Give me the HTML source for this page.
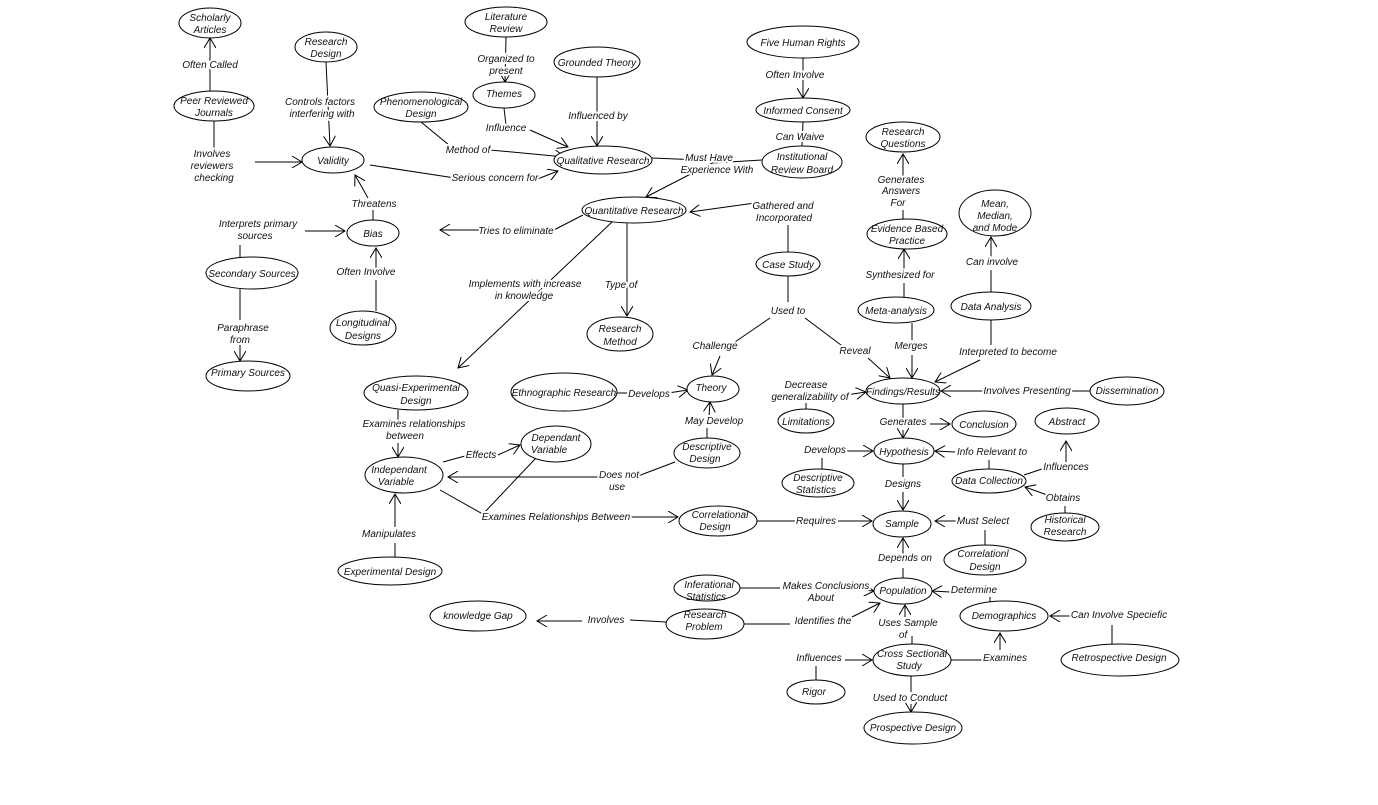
<!DOCTYPE html>
<html><head><meta charset="utf-8"><style>
html,body{margin:0;padding:0;background:#fff;}
svg{display:block;}
text{font-family:"Liberation Sans",Arial,sans-serif;font-size:10px;font-style:italic;fill:#111;text-anchor:middle;}
.l{stroke:#fff;stroke-width:4px;paint-order:stroke;stroke-linejoin:round;}
ellipse{fill:#fff;stroke:#000;stroke-width:1;}
line,polyline{stroke:#000;stroke-width:1;fill:none;}
</style></head><body>
<svg width="1378" height="805" viewBox="0 0 1378 805" xmlns="http://www.w3.org/2000/svg">
<defs><marker id="a" markerWidth="12" markerHeight="12" refX="11" refY="6" orient="auto" markerUnits="userSpaceOnUse"><path d="M1,0 L11,6 L1,12" fill="none" stroke="#000" stroke-width="1"/></marker></defs>
<g>
<line x1="210" y1="91" x2="210" y2="38" marker-end="url(#a)"/>
<line x1="326" y1="62" x2="330" y2="146" marker-end="url(#a)"/>
<line x1="506" y1="37" x2="505" y2="82" marker-end="url(#a)"/>
<line x1="597" y1="77" x2="597" y2="146" marker-end="url(#a)"/>
<line x1="803" y1="58" x2="803" y2="98" marker-end="url(#a)"/>
<line x1="803" y1="122" x2="802" y2="146"/>
<polyline points="762,160 712,163 646,197" marker-end="url(#a)"/>
<line x1="652" y1="158" x2="700" y2="160"/>
<line x1="504" y1="108" x2="506" y2="125"/>
<line x1="530" y1="130" x2="568" y2="147" marker-end="url(#a)"/>
<line x1="421" y1="122" x2="455" y2="150"/>
<line x1="490" y1="150" x2="565" y2="157" marker-end="url(#a)"/>
<line x1="214" y1="121" x2="214" y2="150"/>
<line x1="255" y1="162" x2="302" y2="162" marker-end="url(#a)"/>
<line x1="370" y1="165" x2="455" y2="178"/>
<line x1="535" y1="180" x2="558" y2="171" marker-end="url(#a)"/>
<line x1="373" y1="220" x2="373" y2="210"/>
<line x1="368" y1="198" x2="355" y2="175" marker-end="url(#a)"/>
<line x1="305" y1="231" x2="345" y2="231" marker-end="url(#a)"/>
<line x1="240" y1="257" x2="240" y2="245"/>
<line x1="583" y1="215" x2="550" y2="232"/>
<line x1="480" y1="230" x2="440" y2="230" marker-end="url(#a)"/>
<line x1="376" y1="311" x2="376" y2="280"/>
<line x1="376" y1="268" x2="376" y2="248" marker-end="url(#a)"/>
<line x1="612" y1="222" x2="458" y2="368" marker-end="url(#a)"/>
<line x1="627" y1="223" x2="627" y2="316" marker-end="url(#a)"/>
<line x1="240" y1="289" x2="240" y2="320"/>
<line x1="240" y1="345" x2="240" y2="361" marker-end="url(#a)"/>
<line x1="788" y1="252" x2="788" y2="225"/>
<line x1="755" y1="203" x2="690" y2="212" marker-end="url(#a)"/>
<line x1="788" y1="276" x2="788" y2="302"/>
<line x1="770" y1="318" x2="735" y2="342"/>
<line x1="720" y1="356" x2="712" y2="375" marker-end="url(#a)"/>
<line x1="805" y1="318" x2="845" y2="348"/>
<line x1="868" y1="358" x2="890" y2="378" marker-end="url(#a)"/>
<line x1="912" y1="323" x2="912" y2="340"/>
<line x1="912" y1="355" x2="912" y2="378" marker-end="url(#a)"/>
<line x1="991" y1="320" x2="991" y2="345"/>
<line x1="980" y1="360" x2="935" y2="382" marker-end="url(#a)"/>
<line x1="904" y1="297" x2="904" y2="283"/>
<line x1="904" y1="270" x2="904" y2="249" marker-end="url(#a)"/>
<line x1="903" y1="219" x2="903" y2="210"/>
<line x1="903" y1="178" x2="903" y2="154" marker-end="url(#a)"/>
<line x1="991" y1="292" x2="991" y2="270"/>
<line x1="991" y1="258" x2="991" y2="237" marker-end="url(#a)"/>
<line x1="617" y1="393" x2="630" y2="393"/>
<line x1="668" y1="393" x2="688" y2="390" marker-end="url(#a)"/>
<line x1="707" y1="438" x2="707" y2="428"/>
<line x1="709" y1="416" x2="710" y2="402" marker-end="url(#a)"/>
<line x1="806" y1="409" x2="806" y2="403"/>
<line x1="846" y1="395" x2="866" y2="392" marker-end="url(#a)"/>
<line x1="1090" y1="391" x2="1070" y2="391"/>
<line x1="985" y1="391" x2="941" y2="391" marker-end="url(#a)"/>
<line x1="903" y1="404" x2="903" y2="418"/>
<line x1="903" y1="430" x2="903" y2="438" marker-end="url(#a)"/>
<line x1="930" y1="424" x2="950" y2="424" marker-end="url(#a)"/>
<line x1="822" y1="469" x2="822" y2="458"/>
<line x1="845" y1="451" x2="873" y2="451" marker-end="url(#a)"/>
<line x1="989" y1="469" x2="989" y2="460"/>
<line x1="955" y1="452" x2="935" y2="451" marker-end="url(#a)"/>
<line x1="1024" y1="475" x2="1045" y2="468"/>
<line x1="1066" y1="462" x2="1066" y2="441" marker-end="url(#a)"/>
<line x1="1065" y1="513" x2="1065" y2="506"/>
<line x1="1050" y1="496" x2="1025" y2="487" marker-end="url(#a)"/>
<line x1="903" y1="464" x2="903" y2="477"/>
<line x1="903" y1="492" x2="903" y2="510" marker-end="url(#a)"/>
<line x1="757" y1="521" x2="795" y2="521"/>
<line x1="838" y1="521" x2="872" y2="521" marker-end="url(#a)"/>
<line x1="985" y1="545" x2="985" y2="530"/>
<line x1="962" y1="521" x2="935" y2="521" marker-end="url(#a)"/>
<line x1="903" y1="578" x2="903" y2="568"/>
<line x1="903" y1="555" x2="903" y2="538" marker-end="url(#a)"/>
<line x1="740" y1="588" x2="780" y2="588"/>
<line x1="862" y1="590" x2="874" y2="591" marker-end="url(#a)"/>
<line x1="744" y1="624" x2="790" y2="624"/>
<line x1="852" y1="617" x2="880" y2="603" marker-end="url(#a)"/>
<line x1="990" y1="602" x2="990" y2="597"/>
<line x1="950" y1="592" x2="932" y2="591" marker-end="url(#a)"/>
<line x1="912" y1="644" x2="912" y2="636"/>
<line x1="905" y1="617" x2="905" y2="605" marker-end="url(#a)"/>
<line x1="1112" y1="644" x2="1112" y2="625"/>
<line x1="1080" y1="616" x2="1050" y2="616" marker-end="url(#a)"/>
<line x1="951" y1="660" x2="982" y2="660"/>
<line x1="1000" y1="650" x2="1000" y2="633" marker-end="url(#a)"/>
<line x1="816" y1="680" x2="816" y2="666"/>
<line x1="845" y1="660" x2="872" y2="660" marker-end="url(#a)"/>
<line x1="911" y1="676" x2="911" y2="692"/>
<line x1="911" y1="704" x2="911" y2="712" marker-end="url(#a)"/>
<line x1="666" y1="622" x2="630" y2="620"/>
<line x1="582" y1="621" x2="537" y2="621" marker-end="url(#a)"/>
<line x1="398" y1="410" x2="398" y2="420"/>
<line x1="398" y1="443" x2="398" y2="457" marker-end="url(#a)"/>
<line x1="443" y1="462" x2="465" y2="456"/>
<line x1="498" y1="455" x2="520" y2="445" marker-end="url(#a)"/>
<line x1="536" y1="458" x2="482" y2="515"/>
<line x1="440" y1="490" x2="488" y2="517"/>
<line x1="628" y1="517" x2="678" y2="517" marker-end="url(#a)"/>
<line x1="675" y1="462" x2="638" y2="476"/>
<line x1="598" y1="477" x2="448" y2="477" marker-end="url(#a)"/>
<line x1="395" y1="557" x2="395" y2="543"/>
<line x1="395" y1="527" x2="395" y2="494" marker-end="url(#a)"/>
</g>
<g>
<ellipse cx="210" cy="23" rx="31" ry="15"/><text x="210" y="21">Scholarly</text><text x="210" y="33">Articles</text>
<ellipse cx="326" cy="47" rx="31" ry="15"/><text x="326" y="45">Research</text><text x="326" y="57">Design</text>
<ellipse cx="506" cy="22" rx="41" ry="15"/><text x="506" y="20">Literature</text><text x="506" y="32">Review</text>
<ellipse cx="597" cy="62" rx="43" ry="15"/><text x="597" y="66">Grounded Theory</text>
<ellipse cx="803" cy="42" rx="56" ry="16"/><text x="803" y="46">Five Human Rights</text>
<ellipse cx="214" cy="106" rx="40" ry="15"/><text x="214" y="104">Peer Reviewed</text><text x="214" y="116">Journals</text>
<ellipse cx="421" cy="107" rx="47" ry="15"/><text x="421" y="105">Phenomenological</text><text x="421" y="117">Design</text>
<ellipse cx="504" cy="95" rx="31" ry="13"/><text x="504" y="97">Themes</text>
<ellipse cx="803" cy="110" rx="47" ry="12"/><text x="803" y="114">Informed Consent</text>
<ellipse cx="903" cy="137" rx="37" ry="15"/><text x="903" y="135">Research</text><text x="903" y="147">Questions</text>
<ellipse cx="333" cy="160" rx="31" ry="13"/><text x="333" y="164">Validity</text>
<ellipse cx="603" cy="160" rx="49" ry="14"/><text x="603" y="164">Qualitative Research</text>
<ellipse cx="802" cy="162" rx="40" ry="16"/><text x="802" y="160">Institutional</text><text x="802" y="173">Review Board</text>
<ellipse cx="634" cy="210" rx="52" ry="13"/><text x="634" y="214">Quantitative Research</text>
<ellipse cx="995" cy="213" rx="36" ry="23"/><text x="995" y="207">Mean,</text><text x="995" y="219">Median,</text><text x="995" y="231">and Mode</text>
<ellipse cx="907" cy="234" rx="40" ry="15"/><text x="907" y="232">Evidence Based</text><text x="907" y="244">Practice</text>
<ellipse cx="373" cy="233" rx="26" ry="13"/><text x="373" y="237">Bias</text>
<ellipse cx="788" cy="264" rx="32" ry="12"/><text x="788" y="268">Case Study</text>
<ellipse cx="252" cy="273" rx="46" ry="16"/><text x="252" y="277">Secondary Sources</text>
<ellipse cx="896" cy="310" rx="38" ry="13"/><text x="896" y="314">Meta-analysis</text>
<ellipse cx="991" cy="306" rx="40" ry="14"/><text x="991" y="310">Data Analysis</text>
<ellipse cx="363" cy="328" rx="33" ry="17"/><text x="363" y="326">Longitudinal</text><text x="363" y="339">Designs</text>
<ellipse cx="620" cy="334" rx="33" ry="17"/><text x="620" y="332">Research</text><text x="620" y="345">Method</text>
<ellipse cx="248" cy="376" rx="42" ry="15"/><text x="248" y="376">Primary Sources</text>
<ellipse cx="416" cy="393" rx="52" ry="17"/><text x="416" y="391">Quasi-Experimental</text><text x="416" y="404">Design</text>
<ellipse cx="564" cy="392" rx="53" ry="19"/><text x="564" y="396">Ethnographic Research</text>
<ellipse cx="713" cy="389" rx="26" ry="13"/><text x="711" y="391">Theory</text>
<ellipse cx="903" cy="391" rx="37" ry="13"/><text x="903" y="395">Findings/Results</text>
<ellipse cx="1127" cy="391" rx="37" ry="14"/><text x="1127" y="394">Dissemination</text>
<ellipse cx="806" cy="421" rx="28" ry="12"/><text x="806" y="425">Limitations</text>
<ellipse cx="984" cy="424" rx="32" ry="13"/><text x="984" y="428">Conclusion</text>
<ellipse cx="1067" cy="421" rx="32" ry="13"/><text x="1067" y="425">Abstract</text>
<ellipse cx="556" cy="444" rx="35" ry="18"/><text x="556" y="441">Dependant</text><text x="549" y="453">Variable</text>
<ellipse cx="707" cy="453" rx="33" ry="15"/><text x="707" y="450">Descriptive</text><text x="705" y="462">Design</text>
<ellipse cx="904" cy="451" rx="30" ry="13"/><text x="904" y="455">Hypothesis</text>
<ellipse cx="404" cy="475" rx="39" ry="18"/><text x="399" y="473">Independant</text><text x="396" y="485">Variable</text>
<ellipse cx="818" cy="483" rx="36" ry="14"/><text x="818" y="481">Descriptive</text><text x="816" y="493">Statistics</text>
<ellipse cx="989" cy="481" rx="37" ry="12"/><text x="989" y="484">Data Collection</text>
<ellipse cx="718" cy="521" rx="39" ry="15"/><text x="720" y="518">Correlational</text><text x="715" y="530">Design</text>
<ellipse cx="902" cy="524" rx="29" ry="13"/><text x="902" y="527">Sample</text>
<ellipse cx="1065" cy="527" rx="34" ry="14"/><text x="1065" y="523">Historical</text><text x="1065" y="535">Research</text>
<ellipse cx="985" cy="560" rx="41" ry="15"/><text x="983" y="557">Correlationl</text><text x="985" y="570">Design</text>
<ellipse cx="390" cy="571" rx="52" ry="14"/><text x="390" y="575">Experimental Design</text>
<ellipse cx="707" cy="588" rx="33" ry="13"/><text x="709" y="588">Inferational</text><text x="706" y="600">Statistics</text>
<ellipse cx="903" cy="591" rx="29" ry="13"/><text x="903" y="594">Population</text>
<ellipse cx="705" cy="624" rx="39" ry="15"/><text x="705" y="618">Research</text><text x="704" y="630">Problem</text>
<ellipse cx="478" cy="616" rx="48" ry="15"/><text x="478" y="619">knowledge Gap</text>
<ellipse cx="1004" cy="616" rx="44" ry="15"/><text x="1004" y="619">Demographics</text>
<ellipse cx="912" cy="660" rx="39" ry="16"/><text x="912" y="657">Cross Sectional</text><text x="909" y="669">Study</text>
<ellipse cx="1120" cy="660" rx="59" ry="16"/><text x="1119" y="661">Retrospective Design</text>
<ellipse cx="816" cy="692" rx="29" ry="12"/><text x="814" y="695">Rigor</text>
<ellipse cx="913" cy="728" rx="49" ry="16"/><text x="913" y="731">Prospective Design</text>
</g>
<g class="lbl">
<text class="l" x="210" y="68">Often Called</text>
<text class="l" x="320" y="105">Controls factors</text><text class="l" x="322" y="117">interfering with</text>
<text class="l" x="506" y="62">Organized to</text><text class="l" x="506" y="74">present</text>
<text class="l" x="598" y="119">Influenced by</text>
<text class="l" x="795" y="78">Often Involve</text>
<text class="l" x="800" y="140">Can Waive</text>
<text class="l" x="506" y="131">Influence</text>
<text class="l" x="468" y="153">Method of</text>
<text class="l" x="709" y="161">Must Have</text><text class="l" x="717" y="173">Experience With</text>
<text class="l" x="212" y="157">Involves</text><text class="l" x="212" y="169">reviewers</text><text class="l" x="214" y="181">checking</text>
<text class="l" x="495" y="181">Serious concern for</text>
<text class="l" x="901" y="183">Generates</text><text class="l" x="901" y="194">Answers</text><text class="l" x="898" y="206">For</text>
<text class="l" x="374" y="207">Threatens</text>
<text class="l" x="783" y="209">Gathered and</text><text class="l" x="784" y="221">Incorporated</text>
<text class="l" x="258" y="227">Interprets primary</text><text class="l" x="255" y="239">sources</text>
<text class="l" x="516" y="234">Tries to eliminate</text>
<text class="l" x="992" y="265">Can involve</text>
<text class="l" x="366" y="275">Often Involve</text>
<text class="l" x="900" y="278">Synthesized for</text>
<text class="l" x="525" y="287">Implements with increase</text><text class="l" x="524" y="299">in knowledge</text>
<text class="l" x="621" y="288">Type of</text>
<text class="l" x="788" y="314">Used to</text>
<text class="l" x="243" y="331">Paraphrase</text><text class="l" x="240" y="343">from</text>
<text class="l" x="715" y="349">Challenge</text>
<text class="l" x="855" y="354">Reveal</text>
<text class="l" x="911" y="349">Merges</text>
<text class="l" x="1008" y="355">Interpreted to become</text>
<text class="l" x="649" y="397">Develops</text>
<text class="l" x="806" y="388">Decrease</text><text class="l" x="810" y="400">generalizability of</text>
<text class="l" x="1027" y="394">Involves Presenting</text>
<text class="l" x="414" y="427">Examines relationships</text><text class="l" x="405" y="439">between</text>
<text class="l" x="714" y="424">May Develop</text>
<text class="l" x="903" y="425">Generates</text>
<text class="l" x="481" y="458">Effects</text>
<text class="l" x="825" y="453">Develops</text>
<text class="l" x="992" y="455">Info Relevant to</text>
<text class="l" x="1066" y="470">Influences</text>
<text class="l" x="619" y="478">Does not</text><text class="l" x="617" y="490">use</text>
<text class="l" x="903" y="487">Designs</text>
<text class="l" x="1063" y="501">Obtains</text>
<text class="l" x="556" y="520">Examines Relationships Between</text>
<text class="l" x="816" y="524">Requires</text>
<text class="l" x="983" y="524">Must Select</text>
<text class="l" x="389" y="537">Manipulates</text>
<text class="l" x="905" y="561">Depends on</text>
<text class="l" x="826" y="589">Makes Conclusions</text><text class="l" x="821" y="601">About</text>
<text class="l" x="974" y="593">Determine</text>
<text class="l" x="606" y="623">Involves</text>
<text class="l" x="823" y="624">Identifies the</text>
<text class="l" x="908" y="626">Uses Sample</text><text class="l" x="903" y="638">of</text>
<text class="l" x="1119" y="618">Can Involve Speciefic</text>
<text class="l" x="819" y="661">Influences</text>
<text class="l" x="1005" y="661">Examines</text>
<text class="l" x="910" y="701">Used to Conduct</text>
</g>
</svg>
</body></html>
